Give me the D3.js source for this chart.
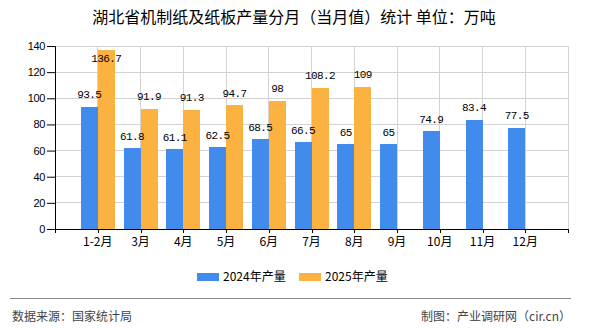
<!DOCTYPE html>
<html><head><meta charset="utf-8">
<script src="https://cdn.jsdelivr.net/npm/d3@7"></script>
<style>body{margin:0;background:#fff}svg{display:block}</style>
</head><body>
<script>
const categories = ["1-2月","3月","4月","5月","6月","7月","8月","9月","10月","11月","12月"];
const series2024 = [93.5,61.8,61.1,62.5,68.5,66.5,65,65,74.9,83.4,77.5];
const series2025 = [136.7,91.9,91.3,94.7,98,108.2,109,null,null,null,null];
const seriesNames = ["2024年产量","2025年产量"];
const yTicks = [0,20,40,60,80,100,120,140];
const title = "湖北省机制纸及纸板产量分月（当月值）统计 单位：万吨";
const source = "数据来源：国家统计局";
const credit = "制图：产业调研网（cir.cn）";
const colors = ["#418BED","#FBB240"];

const W=590,H=330, L=55, R=568, T=46, B=229;
const svg=d3.select("body").append("svg").attr("width",W).attr("height",H);
const cjk="'Noto Sans CJK SC','Noto Sans',sans-serif";

svg.append("text").attr("x",294).attr("y",23).attr("text-anchor","middle")
  .attr("font-family",cjk).attr("font-size",16).attr("fill","#000").text(title);

const x=d3.scalePoint().domain(categories).range([L,R]).padding(1);
const y=d3.scaleLinear().domain([0,140]).range([B,T]);
const bw=17;

// gridlines
const g=svg.append("g");
g.selectAll("line.h").data(yTicks.slice(1)).join("line")
  .attr("x1",L).attr("x2",R).attr("y1",d=>y(d)).attr("y2",d=>y(d))
  .attr("stroke","#d3d3d3").attr("stroke-width",1).attr("shape-rendering","crispEdges");
const vpos=[L].concat(categories.map(c=>x(c))).concat([R]);
g.selectAll("line.v").data(vpos.slice(1)).join("line")
  .attr("x1",d=>d).attr("x2",d=>d).attr("y1",T).attr("y2",B)
  .attr("stroke","#d3d3d3").attr("stroke-width",1).attr("shape-rendering","crispEdges");

// bars
const data=categories.map((c,i)=>({c,v:[series2024[i],series2025[i]]}));
const barG=svg.append("g"), labG=svg.append("g");
[0,1].forEach(k=>{
  const arr=data.filter(d=>d.v[k]!=null);
  barG.append("g").selectAll("rect").data(arr).join("rect")
    .attr("x",d=>k===0?x(d.c)-bw:x(d.c)).attr("width",bw)
    .attr("y",d=>y(d.v[k])).attr("height",d=>B-y(d.v[k]))
    .attr("fill",colors[k]).attr("shape-rendering","crispEdges");
  labG.append("g").selectAll("text").data(arr).join("text")
    .attr("x",d=>k===0?x(d.c)-bw/2:x(d.c)+bw/2)
    .attr("y",d=>{const t=y(d.v[k]); return (t-17<T)? t+11.5 : t-8.5;})
    .attr("text-anchor","middle").attr("font-family","'Liberation Mono',monospace")
    .attr("font-size",11).attr("letter-spacing","-0.6px").attr("fill","#000")
    .text(d=>d.v[k]);
});

// axes
const ya=svg.append("g").attr("transform",`translate(${L},0)`)
  .call(d3.axisLeft(y).tickValues(yTicks).tickSize(8).tickPadding(2));
ya.select(".domain").attr("stroke","#000");
ya.selectAll("line").attr("stroke","#000");
ya.selectAll("text").attr("font-family","'Liberation Sans',Arial,sans-serif").attr("font-size",11)
  .attr("letter-spacing","-0.4px").attr("fill","#000");
svg.append("line").attr("x1",L).attr("x2",R).attr("y1",B+0.5).attr("y2",B+0.5).attr("stroke","#000");
svg.append("g").selectAll("line").data(vpos).join("line")
  .attr("x1",d=>Math.round(d)+0.5).attr("x2",d=>Math.round(d)+0.5).attr("y1",B).attr("y2",B+4).attr("stroke","#000");
svg.append("g").selectAll("text").data(categories).join("text")
  .attr("x",d=>x(d)).attr("y",246).attr("text-anchor","middle")
  .attr("font-family",cjk).attr("font-size",12).attr("fill","#000").text(d=>d);

// legend
const lg=[{x:197,t:seriesNames[0],c:colors[0]},{x:299,t:seriesNames[1],c:colors[1]}];
lg.forEach(o=>{
  svg.append("rect").attr("x",o.x).attr("y",273).attr("width",22).attr("height",8).attr("fill",o.c);
  svg.append("text").attr("x",o.x+26).attr("y",281).attr("font-family",cjk).attr("font-size",12)
    .attr("fill","#000").text(o.t);
});

// footer
svg.append("line").attr("x1",10).attr("x2",571).attr("y1",298.5).attr("y2",298.5).attr("stroke","#888").attr("stroke-width",1);
svg.append("text").attr("x",12).attr("y",321).attr("font-family",cjk).attr("font-size",12).attr("fill","#444").text(source);
svg.append("text").attr("x",571).attr("y",321).attr("text-anchor","end").attr("font-family",cjk).attr("font-size",12).attr("fill","#444").text(credit);
</script>
</body></html>
